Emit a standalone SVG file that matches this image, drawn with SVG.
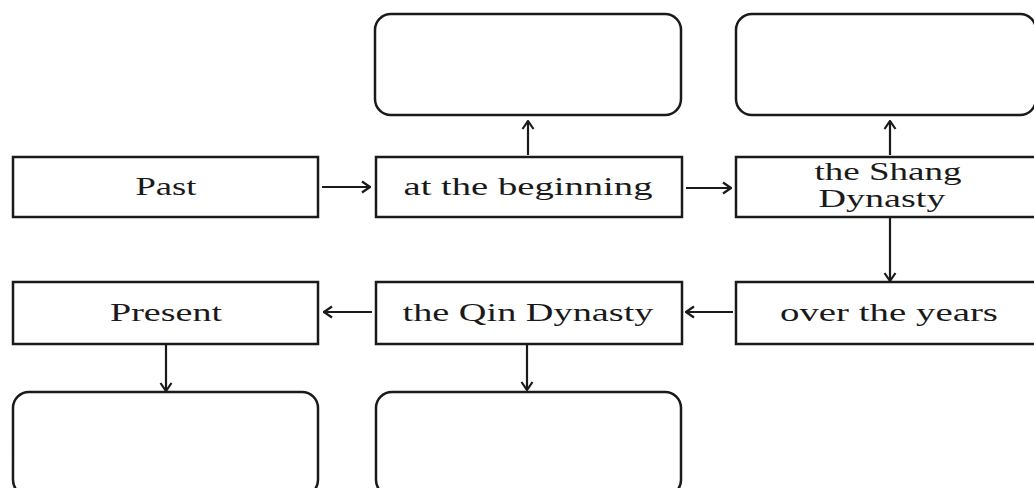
<svg xmlns="http://www.w3.org/2000/svg" width="1034" height="488" viewBox="0 0 1034 488">
<style>
.box{fill:#fff;stroke:#1a1a1a;stroke-width:2.5}
.rbox{fill:#fff;stroke:#1a1a1a;stroke-width:2.5}
.lbl{font-family:"Liberation Serif","Times New Roman",serif;font-size:26px;fill:#1a1a1a;text-anchor:middle}
.conn{stroke:#1a1a1a;stroke-width:2.2;fill:none;marker-end:url(#ah)}
</style>
<defs>
<marker id="ah" viewBox="0 0 14 14" refX="13" refY="7" markerWidth="14" markerHeight="14" markerUnits="userSpaceOnUse" orient="auto">
<polyline points="5,1.5 13,7 5,12.5" fill="none" stroke="#1a1a1a" stroke-width="2.2"/>
</marker>
</defs>
<rect width="1034" height="488" fill="#fff"/>
<g id="result-top-1"><rect class="rbox" x="375" y="14" width="306" height="101" rx="16"/></g>
<g id="result-top-2"><rect class="rbox" x="736" y="14" width="300" height="101" rx="16"/></g>
<g id="past"><rect class="box" x="13" y="157" width="305" height="60"/><text class="lbl" x="166" y="195" textLength="61" lengthAdjust="spacingAndGlyphs">Past</text></g>
<g id="beginning"><rect class="box" x="376" y="157" width="306" height="60"/><text class="lbl" x="528" y="195" textLength="249" lengthAdjust="spacingAndGlyphs">at the beginning</text></g>
<g id="shang"><rect class="box" x="736" y="157" width="306" height="60"/><text class="lbl" x="888" y="180" textLength="147" lengthAdjust="spacingAndGlyphs">the Shang</text><text class="lbl" x="882" y="207" textLength="127" lengthAdjust="spacingAndGlyphs">Dynasty</text></g>
<g id="present"><rect class="box" x="13" y="282" width="305" height="62"/><text class="lbl" x="166" y="321" textLength="112" lengthAdjust="spacingAndGlyphs">Present</text></g>
<g id="qin"><rect class="box" x="376" y="282" width="306" height="62"/><text class="lbl" x="528" y="321" textLength="251" lengthAdjust="spacingAndGlyphs">the Qin Dynasty</text></g>
<g id="years"><rect class="box" x="736" y="282" width="306" height="62"/><text class="lbl" x="889" y="321" textLength="218" lengthAdjust="spacingAndGlyphs">over the years</text></g>
<g id="result-bottom-1"><rect class="rbox" x="13" y="392" width="305" height="104" rx="16"/></g>
<g id="result-bottom-2"><rect class="rbox" x="376" y="392" width="305" height="104" rx="16"/></g>
<g id="connectors">
<line class="conn" x1="322" y1="187" x2="370" y2="187"/>
<line class="conn" x1="686" y1="188" x2="731" y2="188"/>
<line class="conn" x1="528" y1="155" x2="528" y2="121"/>
<line class="conn" x1="890" y1="155" x2="890" y2="121"/>
<line class="conn" x1="890" y1="217" x2="890" y2="281"/>
<line class="conn" x1="733" y1="312" x2="686" y2="312"/>
<line class="conn" x1="372" y1="312" x2="324" y2="312"/>
<line class="conn" x1="166" y1="344" x2="166" y2="391"/>
<line class="conn" x1="527" y1="344" x2="527" y2="390"/>
</g>
</svg>
